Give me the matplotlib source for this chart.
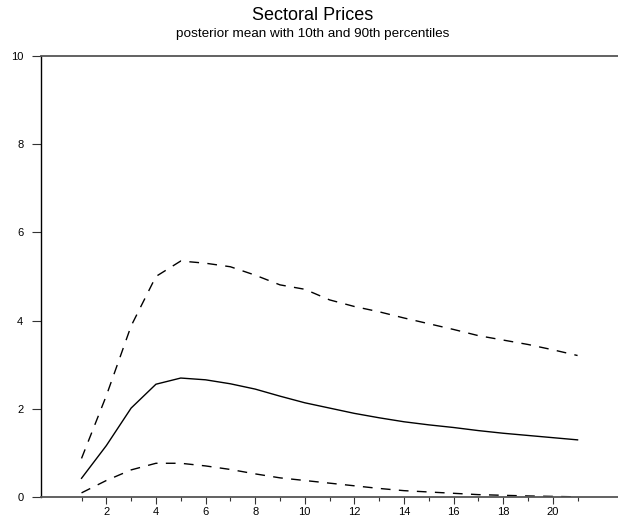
import numpy as np
import matplotlib.pyplot as plt
from matplotlib.ticker import FixedLocator

plt.rcParams['font.family'] = ['Liberation Sans', 'DejaVu Sans']

# horizon steps
steps = np.arange(1, 22)

# posterior mean
mean = [0.43, 1.17, 2.02, 2.56, 2.70, 2.66, 2.57, 2.45, 2.29, 2.14, 2.02,
        1.90, 1.80, 1.71, 1.64, 1.58, 1.51, 1.45, 1.40, 1.35, 1.30]
# 90th percentile
p90 = [0.88, 2.30, 3.88, 5.00, 5.35, 5.30, 5.22, 5.03, 4.81, 4.71, 4.47,
       4.32, 4.20, 4.06, 3.93, 3.80, 3.66, 3.56, 3.46, 3.34, 3.21]
# 10th percentile
p10 = [0.10, 0.38, 0.62, 0.77, 0.77, 0.71, 0.63, 0.53, 0.44, 0.38, 0.32,
       0.26, 0.20, 0.15, 0.12, 0.09, 0.06, 0.045, 0.03, 0.02, 0.01]

fig = plt.figure(figsize=(6.18, 5.25), dpi=100)
ax = fig.add_axes([0.0659, 0.0528, 0.9341, 0.8412])

ax.plot(steps, mean, color='black', lw=1.0)
ax.plot(steps, p90, color='black', lw=1.0, dashes=(7, 6))
ax.plot(steps, p10, color='black', lw=1.0, dashes=(7, 6))

ax.set_xlim(-0.645, 22.63)
ax.set_ylim(0, 10)

ax.spines['right'].set_visible(False)
ax.spines['left'].set_color('black')
ax.spines['left'].set_linewidth(1.0)
for s in ['top', 'bottom']:
    ax.spines[s].set_color('#555555')
    ax.spines[s].set_linewidth(1.3)

ax.xaxis.set_major_locator(FixedLocator(range(2, 21, 2)))
ax.xaxis.set_minor_locator(FixedLocator(range(1, 22, 2)))
ax.tick_params(axis='x', which='major', direction='out', length=5, width=0.8,
               labelsize=8, pad=2, color='#333333')
ax.tick_params(axis='x', which='minor', direction='out', length=3, width=0.8,
               color='#333333')

ax.set_yticks([0, 2, 4, 6, 8, 10])
ax.tick_params(axis='y', direction='out', length=6.5, width=0.8,
               labelsize=8, pad=6, color='#333333')

fig.text(313 / 618, 1 - 15 / 525, 'Sectoral Prices', ha='center', va='center',
         fontsize=13)
fig.text(313 / 618, 1 - 34 / 525, 'posterior mean with 10th and 90th percentiles',
         ha='center', va='center', fontsize=9.7)

fig.savefig('out.png', dpi=100)
